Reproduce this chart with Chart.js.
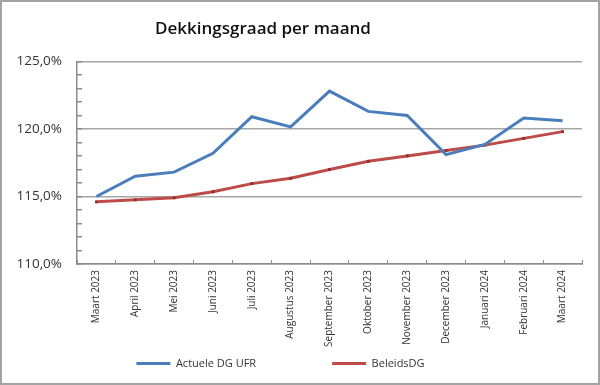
<!DOCTYPE html>
<html>
<head>
<meta charset="utf-8">
<script src="https://cdn.jsdelivr.net/npm/chart.js@4.4.1/dist/chart.umd.min.js"></script>
<style>
  html, body { margin: 0; padding: 0; background: #ffffff; }
  #wrap { position: relative; width: 600px; height: 385px; }
  #frame { position: absolute; left: 0; top: 0; width: 600px; height: 385px; box-sizing: border-box; border: 2px solid #a3a3a3; pointer-events: none; }
</style>
</head>
<body>
<div id="wrap">
  <canvas id="c" width="600" height="385"></canvas>
  <div id="frame"></div>
</div>
<script>
const titleText = 'Dekkingsgraad per maand';
const categories = ['Maart 2023', 'April 2023', 'Mei 2023', 'Juni 2023', 'Juli 2023', 'Augustus 2023', 'September 2023', 'Oktober 2023', 'November 2023', 'December 2023', 'Januari 2024', 'Februari 2024', 'Maart 2024'];
const actueleName = 'Actuele DG UFR';
const actueleValues = [115.0, 116.5, 116.8, 118.2, 120.9, 120.15, 122.8, 121.3, 121.0, 118.1, 118.85, 120.8, 120.6];
const beleidsName = 'BeleidsDG';
const beleidsValues = [114.6, 114.75, 114.9, 115.35, 115.95, 116.35, 117.0, 117.6, 118.0, 118.4, 118.8, 119.3, 119.8];
const yMajorTicks = [110, 115, 120, 125];

const fmt = v => v.toFixed(1).replace('.', ',') + '%';

new Chart(document.getElementById('c'), {
  type: 'line',
  data: {
    labels: categories,
    datasets: [
      { label: actueleName, data: actueleValues, borderColor: '#4a7ebb', backgroundColor: '#4a7ebb', borderWidth: 3, pointRadius: 0, tension: 0 },
      { label: beleidsName, data: beleidsValues, borderColor: '#be4b48', backgroundColor: '#8f302e', borderWidth: 3, pointRadius: 2, pointStyle: 'rect', pointBorderWidth: 0, tension: 0 }
    ]
  },
  options: {
    responsive: false,
    animation: false,
    layout: { padding: { left: 12, right: 18, top: 0, bottom: 6 } },
    plugins: {
      title: {
        display: true, text: titleText + '\u2003\u2003\u2003\u2003', color: '#111',
        font: { family: 'Open Sans', size: 17, weight: '600' },
        padding: { top: 19, bottom: 22 }
      },
      legend: {
        position: 'bottom',
        labels: {
          usePointStyle: true, pointStyle: 'line', pointStyleWidth: 34,
          color: '#333', font: { family: 'Open Sans', size: 11 }, padding: 10,
          generateLabels: (chart) => {
            const items = Chart.defaults.plugins.legend.labels.generateLabels(chart);
            items[0].text = items[0].text + '\u2003\u2003\u2003\u2003\u2003\u2003';
            items[1].text = items[1].text + '\u2003\u2003\u2003';
            items.forEach((it, i) => {
              it.pointStyle = 'line';
              it.lineWidth = 3;
              it.strokeStyle = chart.data.datasets[i].borderColor;
            });
            return items;
          }
        }
      },
      tooltip: { enabled: false }
    },
    scales: {
      x: {
        offset: true,
        afterFit: s => { s.height = 84; },
        grid: { offset: true, drawOnChartArea: true, color: 'rgba(0,0,0,0)', tickColor: '#8c8c8c', tickLength: -4, drawTicks: true },
        border: { color: '#8c8c8c', width: 1.5 },
        ticks: { color: '#333', font: { family: 'Open Sans', size: 10 }, minRotation: 90, maxRotation: 90, autoSkip: false, padding: 10 }
      },
      y: {
        min: 110, max: 125,
        afterFit: s => { s.width = 65; },
        grid: {
          color: ctx => (yMajorTicks.includes(ctx.tick.value) ? '#a6a6a6' : 'rgba(0,0,0,0)'),
          lineWidth: 1.5,
          tickColor: '#8c8c8c', tickLength: -5, drawTicks: true
        },
        border: { color: '#8c8c8c', width: 1.5 },
        ticks: {
          stepSize: 1, autoSkip: false, color: '#333',
          font: { family: 'Open Sans', size: 13.5 }, padding: 20,
          callback: v => (yMajorTicks.includes(v) ? fmt(v) : '')
        }
      }
    }
  }
});
</script>
</body>
</html>
